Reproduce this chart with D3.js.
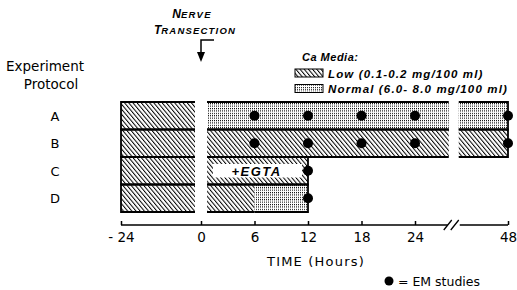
<!DOCTYPE html>
<html>
<head>
<meta charset="utf-8">
<script src="https://cdn.jsdelivr.net/npm/d3@7"></script>
<style>
  body { margin: 0; background: #fff; }
  svg text { fill: #000; }
  .lbl { font-family: "DejaVu Sans", sans-serif; font-size: 13px; }
  .ital { font-family: "Liberation Sans", sans-serif; font-style: italic; font-weight: bold; }
  .x.axis text { font-family: "DejaVu Sans", sans-serif; font-size: 13.5px; }
</style>
</head>
<body>
<div class="chart"></div>
<script>
// protocols (rows) and time ticks
var protocols = ["A", "B", "C", "D"];
var tickHours = [-24, 0, 6, 12, 18, 24, 48];

// Ca media periods per protocol (hours)
var segProtocol = ["A", "A", "B", "B", "C", "C", "D", "D", "D"];
var segStart    = [-24,   0, -24,   0, -24,   0, -24,   0,   6];
var segEnd      = [  0,  48,   0,  48,   0,  12,   0,   6,  12];
var segMedia    = ["low", "normal", "low", "low", "low", "low", "low", "low", "normal"];

// EM study times per protocol
var emA = [6, 12, 18, 24, 48];
var emB = [6, 12, 18, 24, 48];
var emC = [12];
var emD = [12];

// EGTA added
var egtaProtocol = ["C"];
var egtaStart = [0];
var egtaEnd = [12];

var transectionHour = 0;
var axisBreakHour = 34;

var width = 517, height = 290;

var svg = d3.select("div.chart").append("svg")
  .attr("width", width)
  .attr("height", height);

var defs = svg.append("defs");

var hatch = defs.append("pattern")
  .attr("id", "hatch")
  .attr("patternUnits", "userSpaceOnUse")
  .attr("width", 3.2)
  .attr("height", 10)
  .attr("patternTransform", "rotate(-40)");
hatch.append("rect").attr("width", 3.2).attr("height", 10).attr("fill", "#fff");
hatch.append("rect").attr("width", 1).attr("height", 10).attr("fill", "#000");

var stip = defs.append("pattern")
  .attr("id", "stipple")
  .attr("patternUnits", "userSpaceOnUse")
  .attr("width", 2)
  .attr("height", 2.4);
stip.append("rect").attr("width", 2).attr("height", 2.4).attr("fill", "#fff");
stip.append("rect").attr("width", 1).attr("height", 1.1).attr("fill", "#000");

var fillFor = m => m === "low" ? "url(#hatch)" : "url(#stipple)";

// piecewise time scale: compressed before transection and after 24 h
var xScale = d3.scaleLinear()
  .domain([-24, 0, 24, 48])
  .range([121, 201, 415, 508]);

var yScale = d3.scaleBand()
  .domain(protocols)
  .range([102, 212])
  .padding(0);

var gap0 = 6;      // visual gap either side of transection
var gapBreak = 5;  // visual gap at axis break

// split segments into drawn pieces
var pieces = [];
segProtocol.forEach(function(p, i) {
  var x0 = xScale(segStart[i]), x1 = xScale(segEnd[i]);
  if (segStart[i] === transectionHour) x0 += gap0;
  if (segEnd[i] === transectionHour) x1 -= gap0;
  if (segStart[i] < axisBreakHour && segEnd[i] > axisBreakHour) {
    pieces.push({p: p, x0: x0, x1: xScale(axisBreakHour) - gapBreak, m: segMedia[i], end: false});
    pieces.push({p: p, x0: xScale(axisBreakHour) + gapBreak, x1: x1, m: segMedia[i], end: true});
  } else {
    pieces.push({p: p, x0: x0, x1: x1, m: segMedia[i], start: segStart[i] === -24, end: segEnd[i] > 0 && segEnd[i] !== 6});
  }
});

var bars = svg.append("g").attr("class", "bars");

bars.selectAll("rect")
  .data(pieces)
  .enter().append("rect")
  .attr("x", d => d.x0)
  .attr("y", d => yScale(d.p))
  .attr("width", d => d.x1 - d.x0)
  .attr("height", yScale.bandwidth())
  .attr("fill", d => fillFor(d.m));

// EGTA box
egtaProtocol.forEach(function(p, i) {
  var bx0 = xScale(egtaStart[i]) + 12, bx1 = xScale(egtaEnd[i]) - 6;
  var by = yScale(p) + 7;
  bars.append("rect")
    .attr("x", bx0).attr("y", by)
    .attr("width", bx1 - bx0).attr("height", yScale.bandwidth() - 14)
    .attr("fill", "#fff");
  bars.append("text")
    .attr("class", "ital")
    .attr("x", (bx0 + bx1) / 2 - 1)
    .attr("y", yScale(p) + yScale.bandwidth() / 2 + 5)
    .attr("text-anchor", "middle")
    .style("font-size", "13px")
    .style("letter-spacing", "1.5px")
    .text("+EGTA");
});

// outlines: top and bottom of every piece, start/end edges
var outline = svg.append("g").attr("stroke", "#000").attr("stroke-width", 1.8).attr("fill", "none");
pieces.forEach(function(d) {
  var y0 = yScale(d.p), y1 = y0 + yScale.bandwidth();
  outline.append("line").attr("x1", d.x0).attr("x2", d.x1).attr("y1", y0).attr("y2", y0);
  outline.append("line").attr("x1", d.x0).attr("x2", d.x1).attr("y1", y1).attr("y2", y1);
  if (d.start) outline.append("line").attr("x1", d.x0).attr("x2", d.x0).attr("y1", y0 - 0.9).attr("y2", y1 + 0.9);
  if (d.end) outline.append("line").attr("x1", d.x1).attr("x2", d.x1).attr("y1", y0 - 0.9).attr("y2", y1 + 0.9);
});

// EM study dots
var emPoints = [];
[emA, emB, emC, emD].forEach(function(arr, i) {
  arr.forEach(t => emPoints.push({p: protocols[i], t: t}));
});
svg.append("g").selectAll("circle")
  .data(emPoints)
  .enter().append("circle")
  .attr("cx", d => xScale(d.t))
  .attr("cy", d => yScale(d.p) + yScale.bandwidth() / 2)
  .attr("r", 5)
  .attr("fill", "#000");

// row labels
svg.append("g").selectAll("text")
  .data(protocols)
  .enter().append("text")
  .attr("class", "lbl")
  .attr("x", 55)
  .attr("y", d => yScale(d) + yScale.bandwidth() / 2 + 5)
  .attr("text-anchor", "middle")
  .text(d => d);

svg.append("text").attr("class", "lbl").attr("x", 45).attr("y", 71)
  .attr("text-anchor", "middle").style("font-size", "13.5px").text("Experiment");
svg.append("text").attr("class", "lbl").attr("x", 51).attr("y", 89)
  .attr("text-anchor", "middle").style("font-size", "13.5px").text("Protocol");

// x axis
var axisY = 225;
var xAxis = d3.axisBottom(xScale)
  .tickValues(tickHours)
  .tickSizeInner(-4)
  .tickSizeOuter(0)
  .tickPadding(7)
  .tickFormat(d => d < 0 ? "- " + Math.abs(d) : d);

var axisG = svg.append("g")
  .attr("class", "x axis")
  .attr("transform", `translate(0,${axisY})`)
  .call(xAxis);
axisG.select(".domain").remove();
axisG.selectAll("line").attr("stroke-width", 1.5);

var bx = xScale(axisBreakHour);
axisG.append("path")
  .attr("d", `M${xScale(-24)},0H${bx - 6}M${bx + 6},0H${xScale(48)}`)
  .attr("stroke", "#000").attr("stroke-width", 1.5).attr("fill", "none");
axisG.append("path")
  .attr("d", `M${bx - 10},5L${bx - 2},-5M${bx - 3},5L${bx + 5},-5`)
  .attr("stroke", "#000").attr("stroke-width", 1.3).attr("fill", "none");

svg.append("text").attr("class", "lbl")
  .attr("x", 316).attr("y", 266)
  .attr("text-anchor", "middle")
  .style("letter-spacing", "1.2px")
  .text("TIME (Hours)");

// EM legend
svg.append("circle").attr("cx", 389).attr("cy", 281).attr("r", 4.5).attr("fill", "#000");
svg.append("text").attr("class", "lbl")
  .attr("x", 398).attr("y", 285.5)
  .style("font-size", "12.5px")
  .text("= EM studies");

// nerve transection annotation
var nx = xScale(transectionHour);
var nt = svg.append("text").attr("class", "ital").attr("x", 192).attr("y", 18).attr("text-anchor", "middle");
nt.append("tspan").style("font-size", "12px").text("N");
nt.append("tspan").style("font-size", "9.5px").style("letter-spacing", "1.2px").text("ERVE");
var tt = svg.append("text").attr("class", "ital").attr("x", 195).attr("y", 34).attr("text-anchor", "middle");
tt.append("tspan").style("font-size", "12px").text("T");
tt.append("tspan").style("font-size", "9.5px").style("letter-spacing", "1.2px").text("RANSECTION");

svg.append("path")
  .attr("d", `M${nx + 13},40H${nx}V54`)
  .attr("stroke", "#000").attr("stroke-width", 1.5).attr("fill", "none");
svg.append("path")
  .attr("d", `M${nx - 4},52L${nx + 4},52L${nx},62Z`)
  .attr("fill", "#000");

// Ca media legend
svg.append("text").attr("class", "ital").attr("x", 302).attr("y", 61)
  .style("font-size", "11px").style("letter-spacing", "0.5px").text("Ca Media:");

var legendItems = ["low", "normal"];
var legendLabels = ["Low (0.1-0.2 mg/100 ml)", "Normal (6.0- 8.0 mg/100 ml)"];
var lg = svg.append("g").selectAll("g")
  .data(legendItems)
  .enter().append("g")
  .attr("transform", (d, i) => `translate(295,${69 + i * 15.5})`);
lg.append("rect")
  .attr("width", 28).attr("height", 8)
  .attr("fill", d => fillFor(d))
  .attr("stroke", "#000").attr("stroke-width", 1);
lg.append("text")
  .attr("class", "ital")
  .attr("x", 33).attr("y", 8.5)
  .style("font-size", "11.5px")
  .style("letter-spacing", "1.15px")
  .text((d, i) => legendLabels[i]);
</script>
</body>
</html>
